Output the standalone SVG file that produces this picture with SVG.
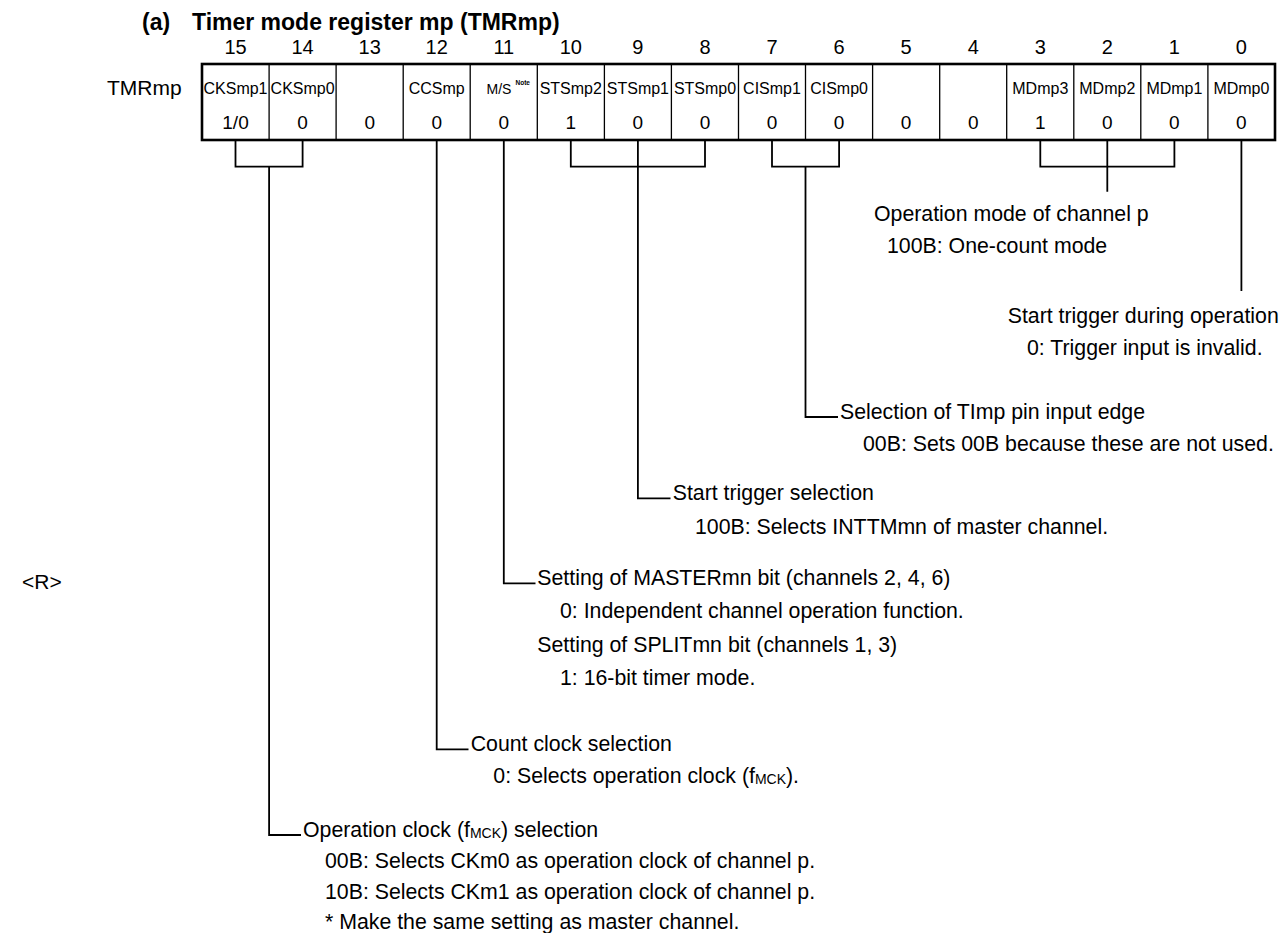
<svg xmlns="http://www.w3.org/2000/svg" width="1282" height="933" viewBox="0 0 1282 933">
<style>
text{font-family:"Liberation Sans",Arial,Helvetica,sans-serif;fill:#000}
.title{font-size:23px;font-weight:bold}
.bitno{font-size:20px;text-anchor:middle}
.lbl{font-size:21px}
.nm{font-size:16px;text-anchor:middle}
.val{font-size:19px;text-anchor:middle}
.d{font-size:21.3px}
.sub{font-size:14px}
.ln{stroke:#000;stroke-width:1.8;fill:none}
.div{stroke:#000;stroke-width:1.3}
.frame{stroke:#000;stroke-width:2.6;fill:none}
</style>
<rect width="1282" height="933" fill="#fff"/>
<g id="title">
<text class="title" x="142" y="30">(a)</text>
<text class="title" x="192" y="30">Timer mode register mp (TMRmp)</text>
</g>
<g id="bit-numbers">
<text class="bitno" x="235.5" y="54">15</text>
<text class="bitno" x="302.6" y="54">14</text>
<text class="bitno" x="369.7" y="54">13</text>
<text class="bitno" x="436.7" y="54">12</text>
<text class="bitno" x="503.8" y="54">11</text>
<text class="bitno" x="570.8" y="54">10</text>
<text class="bitno" x="637.9" y="54">9</text>
<text class="bitno" x="705" y="54">8</text>
<text class="bitno" x="772" y="54">7</text>
<text class="bitno" x="839.1" y="54">6</text>
<text class="bitno" x="906.1" y="54">5</text>
<text class="bitno" x="973.2" y="54">4</text>
<text class="bitno" x="1040.3" y="54">3</text>
<text class="bitno" x="1107.3" y="54">2</text>
<text class="bitno" x="1174.4" y="54">1</text>
<text class="bitno" x="1241.4" y="54">0</text>
</g>
<g id="register-label"><text class="lbl" x="107" y="95">TMRmp</text></g>
<g id="register">
<rect class="frame" x="202" y="64" width="1073" height="76"/>
<path class="div" d="M269.1 64V140M336.1 64V140M403.2 64V140M470.2 64V140M537.3 64V140M604.4 64V140M671.4 64V140M738.5 64V140M805.5 64V140M872.6 64V140M939.7 64V140M1006.7 64V140M1073.8 64V140M1140.8 64V140M1207.9 64V140"/>
<text class="nm" x="235.5" y="94">CKSmp1</text>
<text class="nm" x="302.6" y="94">CKSmp0</text>
<text class="nm" x="436.7" y="94">CCSmp</text>
<text style="font-size:14px" x="486.5" y="94">M/S</text>
<text style="font-size:6.5px;font-weight:bold" x="515.5" y="85">Note</text>
<text class="nm" x="570.8" y="94">STSmp2</text>
<text class="nm" x="637.9" y="94">STSmp1</text>
<text class="nm" x="705" y="94">STSmp0</text>
<text class="nm" x="772" y="94">CISmp1</text>
<text class="nm" x="839.1" y="94">CISmp0</text>
<text class="nm" x="1040.3" y="94">MDmp3</text>
<text class="nm" x="1107.3" y="94">MDmp2</text>
<text class="nm" x="1174.4" y="94">MDmp1</text>
<text class="nm" x="1241.4" y="94">MDmp0</text>
<text class="val" x="235.5" y="129">1/0</text>
<text class="val" x="302.6" y="129">0</text>
<text class="val" x="369.7" y="129">0</text>
<text class="val" x="436.7" y="129">0</text>
<text class="val" x="503.8" y="129">0</text>
<text class="val" x="570.8" y="129">1</text>
<text class="val" x="637.9" y="129">0</text>
<text class="val" x="705" y="129">0</text>
<text class="val" x="772" y="129">0</text>
<text class="val" x="839.1" y="129">0</text>
<text class="val" x="906.1" y="129">0</text>
<text class="val" x="973.2" y="129">0</text>
<text class="val" x="1040.3" y="129">1</text>
<text class="val" x="1107.3" y="129">0</text>
<text class="val" x="1174.4" y="129">0</text>
<text class="val" x="1241.4" y="129">0</text>
</g>
<g id="connectors">
<path class="ln" d="M235.5 140V166.7H302.6V140M269.1 166.7V835H301"/>
<path class="ln" d="M436.7 140V749.3H468.5"/>
<path class="ln" d="M503.8 140V583.3H535.5"/>
<path class="ln" d="M570.8 140V166.7H705V140M637.9 140V498.3H670.5"/>
<path class="ln" d="M772 140V166.7H839.1V140M805.5 166.7V417H838"/>
<path class="ln" d="M1040.3 140V166.7H1174.4V140M1107.3 140V191.7"/>
<path class="ln" d="M1241.4 140V291"/>
</g>
<g id="mode-desc">
<text class="d" x="874" y="220.7">Operation mode of channel p</text>
<text class="d" x="887" y="252.7">100B: One-count mode</text>
</g>
<g id="trigger-during-desc">
<text class="d" x="1007.7" y="322.7">Start trigger during operation</text>
<text class="d" x="1027" y="354.7">0: Trigger input is invalid.</text>
</g>
<g id="edge-desc">
<text class="d" x="840" y="418.7">Selection of TImp pin input edge</text>
<text class="d" x="863" y="450.7">00B: Sets 00B because these are not used.</text>
</g>
<g id="start-trigger-desc">
<text class="d" x="672.7" y="499.7">Start trigger selection</text>
<text class="d" x="695" y="533.7">100B: Selects INTTMmn of master channel.</text>
</g>
<g id="master-desc">
<text class="d" x="537.3" y="585">Setting of MASTERmn bit (channels 2, 4, 6)</text>
<text class="d" x="560" y="617.7">0: Independent channel operation function.</text>
<text class="d" x="537.3" y="651.7">Setting of SPLITmn bit (channels 1, 3)</text>
<text class="d" x="560" y="684.7">1: 16-bit timer mode.</text>
</g>
<g id="count-clock-desc">
<text class="d" x="470.7" y="751">Count clock selection</text>
<text class="d" x="493.3" y="782.7">0: Selects operation clock (f<tspan class="sub" dy="1">MCK</tspan><tspan dy="-1">).</tspan></text>
</g>
<g id="op-clock-desc">
<text class="d" x="303" y="836.7">Operation clock (f<tspan class="sub" dy="1">MCK</tspan><tspan dy="-1">) selection</tspan></text>
<text class="d" x="325" y="867.7">00B: Selects CKm0 as operation clock of channel p.</text>
<text class="d" x="325" y="898.7">10B: Selects CKm1 as operation clock of channel p.</text>
<text class="d" x="325" y="929">* Make the same setting as master channel.</text>
</g>
<g id="revision-mark"><text class="lbl" x="22" y="589">&lt;R&gt;</text></g>
</svg>
